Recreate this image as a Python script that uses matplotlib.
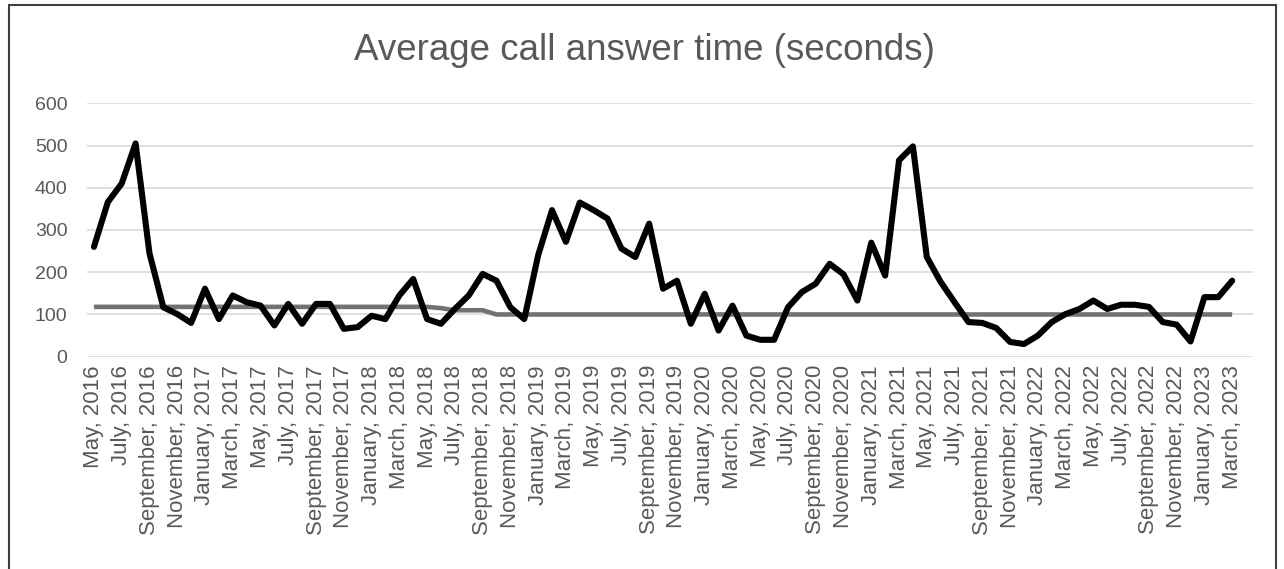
import numpy as np
import pandas as pd
import matplotlib
matplotlib.use("Agg")
import matplotlib.pyplot as plt
from matplotlib.patches import Rectangle

plt.rcParams["font.family"] = ["Liberation Sans", "DejaVu Sans"]

# monthly categories, May 2016 .. April 2023 (last one has no data)
months = pd.date_range("2016-05-01", periods=84, freq="MS")
month_labels = [m.strftime("%B, %Y") for m in months]

# average call answer time (seconds), May 2016 .. March 2023
answer_time = [
    260, 366, 410, 505, 245, 117, 101, 80, 161, 89, 145, 129, 121, 74,
    125, 78, 125, 125, 66, 70, 97, 89, 145, 184, 89, 78, 113, 145,
    196, 180, 117, 89, 240, 347, 272, 365, 347, 327, 256, 236, 315, 161,
    180, 78, 149, 62, 121, 50, 40, 40, 117, 153, 173, 220, 195, 133,
    270, 192, 465, 498, 236, 177, 129, 82, 80, 68, 35, 30, 50, 82,
    101, 113, 133, 113, 123, 123, 118, 82, 76, 36, 141, 141, 180,
]

# target line
target = [
    118, 118, 118, 118, 118, 118, 118, 118, 118, 118, 118, 118, 118, 118,
    118, 118, 118, 118, 118, 118, 118, 118, 118, 118, 118, 115, 110, 110,
    110, 100, 100, 100, 100, 100, 100, 100, 100, 100, 100, 100, 100, 100,
    100, 100, 100, 100, 100, 100, 100, 100, 100, 100, 100, 100, 100, 100,
    100, 100, 100, 100, 100, 100, 100, 100, 100, 100, 100, 100, 100, 100,
    100, 100, 100, 100, 100, 100, 100, 100, 100, 100, 100, 100, 100,
]

TEXT = "#595959"
GRID = "#d9d9d9"

fig = plt.figure(figsize=(12.84, 5.69), dpi=100)
ax = fig.add_axes([87 / 1284, 1 - 356.7 / 569, 1166 / 1284, 253.4 / 569])

x = np.arange(len(answer_time))
ax.plot(x, target, color="#767171", linewidth=3.3, solid_capstyle="butt", zorder=2)
ax.plot(x, answer_time, color="black", linewidth=4.4, solid_joinstyle="round",
        solid_capstyle="round", zorder=3)

ax.set_xlim(-0.5, len(months) - 0.5)
ax.set_ylim(0, 600)
ax.set_yticks(np.arange(0, 601, 100))
ax.set_xticks(np.arange(0, len(months), 2))
ax.set_xticklabels(month_labels[::2], rotation=90)

ax.grid(axis="y", color=GRID, linewidth=1.2)
ax.set_axisbelow(True)
for s in ax.spines.values():
    s.set_visible(False)
ax.tick_params(axis="both", length=0, colors=TEXT)
ax.tick_params(axis="y", pad=14, labelsize=14)
ax.tick_params(axis="x", pad=6, labelsize=16)

fig.text(0.502, 1 - 50 / 569, "Average call answer time (seconds)", ha="center",
         va="center", fontsize=26.5, color=TEXT)

# chart border (bottom edge falls off the image)
fig.patches.append(Rectangle((8.5 / 1284, -0.05), (1276 - 8.5) / 1284, 1.05 - 5 / 569,
                             transform=fig.transFigure, fill=False,
                             edgecolor="#404040", linewidth=1.5))

fig.savefig("out.png", dpi=100)
